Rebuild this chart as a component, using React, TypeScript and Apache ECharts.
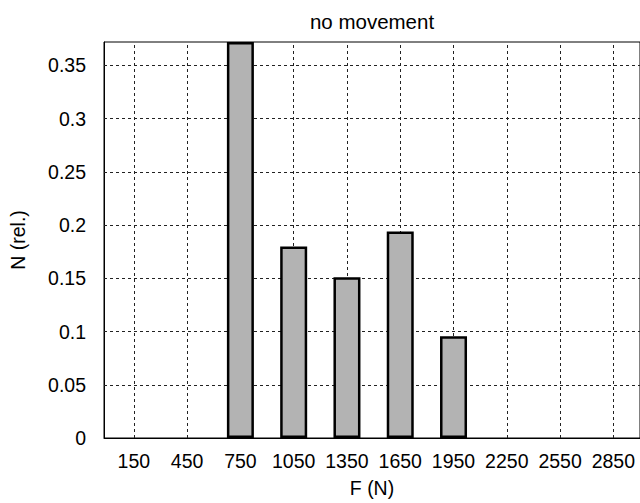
import React, { useEffect, useRef } from "react";
import * as echarts from "echarts";

const xTicks = [150, 450, 750, 1050, 1350, 1650, 1950, 2250, 2550, 2850];
const yTicks = [0.05, 0.1, 0.15, 0.2, 0.25, 0.3, 0.35];
const barForces = [750, 1050, 1350, 1650, 1950];
const barValues = [0.372, 0.18, 0.151, 0.194, 0.0955];
const titleText = "no movement";
const xName = "F (N)";
const yName = "N (rel.)";

const FONT = "'Liberation Sans', Arial, sans-serif";
const FS = 19.5;

export default function App() {
  const ref = useRef<HTMLDivElement>(null);
  useEffect(() => {
    if (!ref.current) return;
    const chart = echarts.init(ref.current, null, { renderer: "svg" });
    const dash = { color: "#222", width: 1, type: [3, 3] as any };
    chart.setOption({
      animation: false,
      backgroundColor: "#fff",
      textStyle: { fontFamily: FONT, color: "#000" },
      title: {
        text: titleText,
        left: 372,
        textAlign: "center",
        top: 11,
        padding: 0,
        textStyle: { fontFamily: FONT, fontSize: 20.5, fontWeight: "normal", color: "#000" },
      },
      grid: {
        left: 102,
        top: 42,
        width: 539,
        height: 396.7,
        show: true,
        borderColor: "#000",
        borderWidth: 1,
        backgroundColor: "transparent",
      },
      xAxis: {
        type: "value",
        min: -18,
        max: 3000,
        name: xName,
        nameLocation: "middle",
        nameGap: 40,
        nameTextStyle: { fontFamily: FONT, fontSize: FS, color: "#000" },
        axisLine: { show: true, onZero: false, lineStyle: { color: "#000", width: 1 } },
        axisTick: { show: false, customValues: xTicks, interval: 0 },
        axisLabel: {
          customValues: xTicks,
          interval: 0,
          formatter: (v: number) => String(v),
          fontFamily: FONT,
          fontSize: FS,
          color: "#000",
          margin: 13,
        },
        splitLine: { show: false },
      },
      yAxis: {
        type: "value",
        min: 0,
        max: 0.372,
        interval: 0.05,
        name: yName,
        nameLocation: "middle",
        nameGap: 76,
        nameTextStyle: { fontFamily: FONT, fontSize: FS, color: "#000" },
        axisLine: { show: true, onZero: false, lineStyle: { color: "#000", width: 1 } },
        axisTick: { show: false },
        axisLabel: {
          fontFamily: FONT,
          fontSize: FS,
          color: "#000",
          margin: 18,
          showMaxLabel: false,
        },
        splitLine: { show: false },
      },
      series: [
        {
          type: "bar",
          data: barForces.map((f, i) => [f, barValues[i]]),
          barWidth: 27,
          itemStyle: { color: "#b3b3b3", borderColor: "#000", borderWidth: 2.5 },
          z: 3,
          markLine: {
            silent: true,
            symbol: ["none", "none"],
            label: { show: false },
            lineStyle: dash,
            z: 1,
            data: [
              ...xTicks.map((v) => ({ xAxis: v })),
              ...yTicks.map((v) => ({ yAxis: v })),
            ],
          },
        },
      ],
    });
    return () => chart.dispose();
  }, []);
  return (
    <div
      ref={ref}
      style={{ position: "fixed", left: 0, top: 0, width: 640, height: 503 }}
    />
  );
}
